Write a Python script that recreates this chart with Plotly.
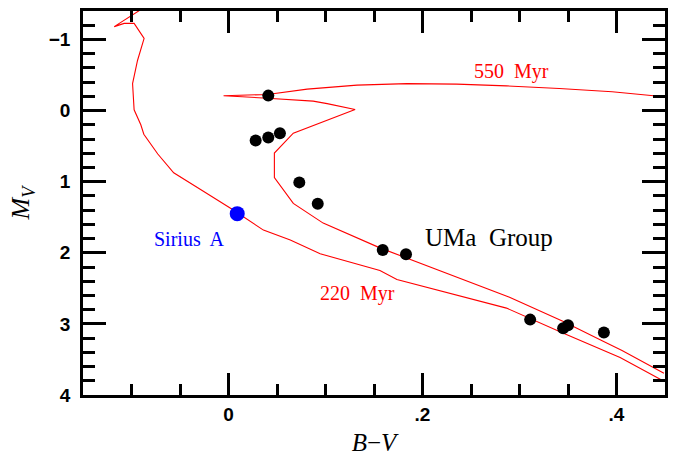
import plotly.graph_objects as go

# --- UMa moving group members (B-V, M_V) ---
uma_bv = [0.041, 0.028, 0.041, 0.053, 0.073, 0.092, 0.159, 0.183, 0.311, 0.345, 0.350, 0.387]
uma_mv = [-0.21, 0.42, 0.38, 0.32, 1.01, 1.31, 1.96, 2.02, 2.94, 3.06, 3.02, 3.12]

# --- Sirius A ---
sirius_bv = [0.009]
sirius_mv = [1.45]

# --- 220 Myr isochrone ---
iso220_bv = [-0.0904, -0.1178, -0.1076, -0.0973, -0.0870, -0.0938, -0.0989, -0.0973,
             -0.0904, -0.0873, -0.0729, -0.0565, -0.0288, 0.0021, 0.0360, 0.0637,
             0.0945, 0.1561, 0.1736, 0.2866, 0.3441, 0.4037, 0.4489]
iso220_mv = [-1.42, -1.18, -1.226, -1.226, -1.014, -0.704, -0.379, -0.010,
             0.199, 0.333, 0.611, 0.875, 1.111, 1.375, 1.681, 1.819,
             2.014, 2.250, 2.375, 2.778, 3.125, 3.472, 3.806]

# --- 550 Myr isochrone (main sequence -> turnoff hook -> giant branch) ---
iso550_bv = [0.4489, 0.4057, 0.3852, 0.3441, 0.2897, 0.2414, 0.1561, 0.0976,
             0.0668, 0.0473, 0.0473, 0.0668, 0.1305, 0.1017, 0.0873, 0.0401,
             -0.0051, 0.0401, 0.0811, 0.1325, 0.1839, 0.2352, 0.2866, 0.3410,
             0.3955, 0.4489]
iso550_mv = [3.694, 3.375, 3.236, 2.958, 2.625, 2.375, 1.931, 1.583,
             1.306, 0.944, 0.597, 0.319, -0.014, -0.097, -0.132, -0.174,
             -0.208, -0.226, -0.301, -0.357, -0.379, -0.371, -0.347, -0.310,
             -0.264, -0.194]

# --- axis ticks ---
x_tickvals = [0, 0.2, 0.4]
x_ticktext = ["0", ".2", ".4"]
y_tickvals = [-1, 0, 1, 2, 3, 4]
y_ticktext = ["\u22121", "0", "1", "2", "3", "4"]

RED = "#ff0000"
label_font = "Liberation Serif"
NB = "\u00a0"

fig = go.Figure()
fig.add_trace(go.Scatter(x=iso220_bv, y=iso220_mv, mode="lines",
                         line=dict(color=RED, width=1.1), hoverinfo="skip"))
fig.add_trace(go.Scatter(x=iso550_bv, y=iso550_mv, mode="lines",
                         line=dict(color=RED, width=1.1), hoverinfo="skip"))
fig.add_trace(go.Scatter(x=uma_bv, y=uma_mv, mode="markers",
                         marker=dict(color="black", size=12, line=dict(width=0))))
fig.add_trace(go.Scatter(x=sirius_bv, y=sirius_mv, mode="markers",
                         marker=dict(color="#0000ff", size=15, line=dict(width=0))))

annotations = [
    dict(x=0.292, y=-0.556, text="550" + NB + " Myr", font=dict(family=label_font, size=20, color=RED)),
    dict(x=0.1325, y=2.57, text="220" + NB + " Myr", font=dict(family=label_font, size=20, color=RED)),
    dict(x=-0.040, y=1.806, text="Sirius" + NB + " A", font=dict(family=label_font, size=20, color="#0000ff")),
    dict(x=0.269, y=1.79, text="UMa" + NB + " Group", font=dict(family=label_font, size=25, color="black")),
]
for a in annotations:
    a.update(xref="x", yref="y", showarrow=False, xanchor="center", yanchor="middle")

axis_common = dict(
    showgrid=False, zeroline=False, showline=True, linecolor="black", linewidth=2.5,
    mirror="ticks", ticks="inside", tickcolor="black", tickwidth=2.5,
    tickfont=dict(family="Liberation Sans", size=19, color="black", weight="bold"),
)

fig.update_layout(
    width=678, height=460,
    margin=dict(l=83, r=13, t=8, b=63),
    paper_bgcolor="white", plot_bgcolor="white",
    showlegend=False,
    annotations=annotations,
    xaxis=dict(
        range=[-0.15, 0.45], tickmode="array", tickvals=x_tickvals, ticktext=x_ticktext,
        ticklen=22,
        minor=dict(dtick=0.05, tick0=0, ticklen=11, tickwidth=2.5, tickcolor="black", ticks="inside"),
        title=dict(text="<i>B</i>\u2212<i>V</i>", font=dict(family="Liberation Serif", size=25, color="black"),
                   standoff=10),
        **axis_common,
    ),
    yaxis=dict(
        range=[4, -1.4], tickmode="array", tickvals=y_tickvals, ticktext=y_ticktext,
        ticklen=23, ticklabelstandoff=6,
        minor=dict(dtick=0.2, tick0=0, ticklen=12, tickwidth=2.5, tickcolor="black", ticks="inside"),
        title=dict(text="<i>M</i><sub><i>V</i></sub>", font=dict(family="Liberation Serif", size=26, color="black"),
                   standoff=12),
        **axis_common,
    ),
)

fig.write_html("out.html")
